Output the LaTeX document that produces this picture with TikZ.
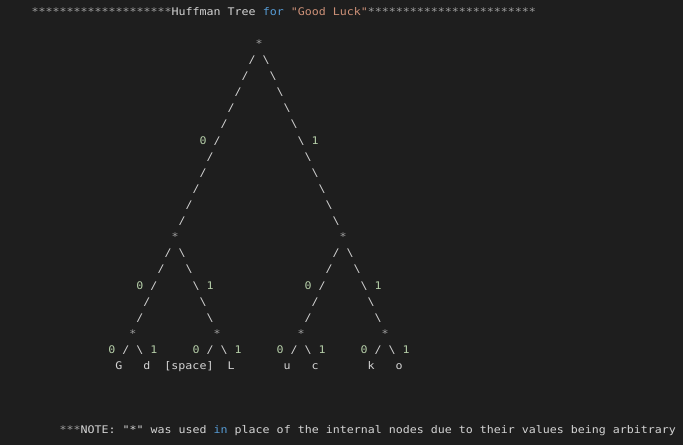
\documentclass[tikz,border=0pt]{standalone}
\usepackage{fontspec}
\newfontfamily\mono[FakeStretch=1.1076]{DejaVu Sans Mono}

\definecolor{termbg}{HTML}{1E1E1E}
\definecolor{plain}{HTML}{D4D4D4}
\definecolor{dim}{HTML}{A0A0A0}
\definecolor{num}{HTML}{B5CEA8}
\definecolor{kw}{HTML}{569CD6}
\definecolor{str}{HTML}{CE9178}

\tikzset{
  ch/.style={inner sep=0pt,text height=7.6pt,text depth=0pt,text=plain,
    font=\mono\fontsize{10.5}{12}\selectfont},
  inner/.style={ch,text=dim},
  lbl/.style={ch,text=num}
}

\begin{document}
\begin{tikzpicture}[x=7pt,y=-16.1pt]

    \fill [termbg] (-5,-1.714) rectangle (92.571,25.925);

    \node [ch,anchor=west] (title) at (-0.5,-1) {\textcolor{dim}{********************}Huffman Tree \textcolor{kw}{for} \textcolor{str}{"Good Luck"}\textcolor{dim}{************************}};

    \node [inner] (root) at (32,1) {*};
    \node [inner] (n0) at (20,13) {*};
    \node [inner] (n1) at (44,13) {*};
    \node [inner] (n00) at (14,19) {*};
    \node [inner] (n01) at (26,19) {*};
    \node [inner] (n10) at (38,19) {*};
    \node [inner] (n11) at (50,19) {*};

    \node [ch] (G) at (12,21) {G};
    \node [ch] (d) at (16,21) {d};
    \node [ch] (sp) at (22,21) {[space]};
    \node [ch] (L) at (28,21) {L};
    \node [ch] (u) at (36,21) {u};
    \node [ch] (c) at (40,21) {c};
    \node [ch] (k) at (48,21) {k};
    \node [ch] (o) at (52,21) {o};

    % branches drawn as slashes below each * node
    \foreach \p/\n/\m in {root/11/6,n0/5/3,n1/5/3,n00/1/1,n01/1/1,n10/1/1,n11/1/1} {
      \foreach \i in {1,...,\n}
        \path (\p) ++(-\i,\i) node [ch] {/} (\p) ++(\i,\i) node [ch] {\textbackslash};
      \path (\p) ++(-\m-2,\m) node [lbl] {0} (\p) ++(\m+2,\m) node [lbl] {1};
    }

    \node [ch,anchor=west] (note) at (3.5,25) {\textcolor{dim}{***}NOTE: "*" was used \textcolor{kw}{in} place of the internal nodes due to their values being arbitrary};

\end{tikzpicture}
\end{document}
